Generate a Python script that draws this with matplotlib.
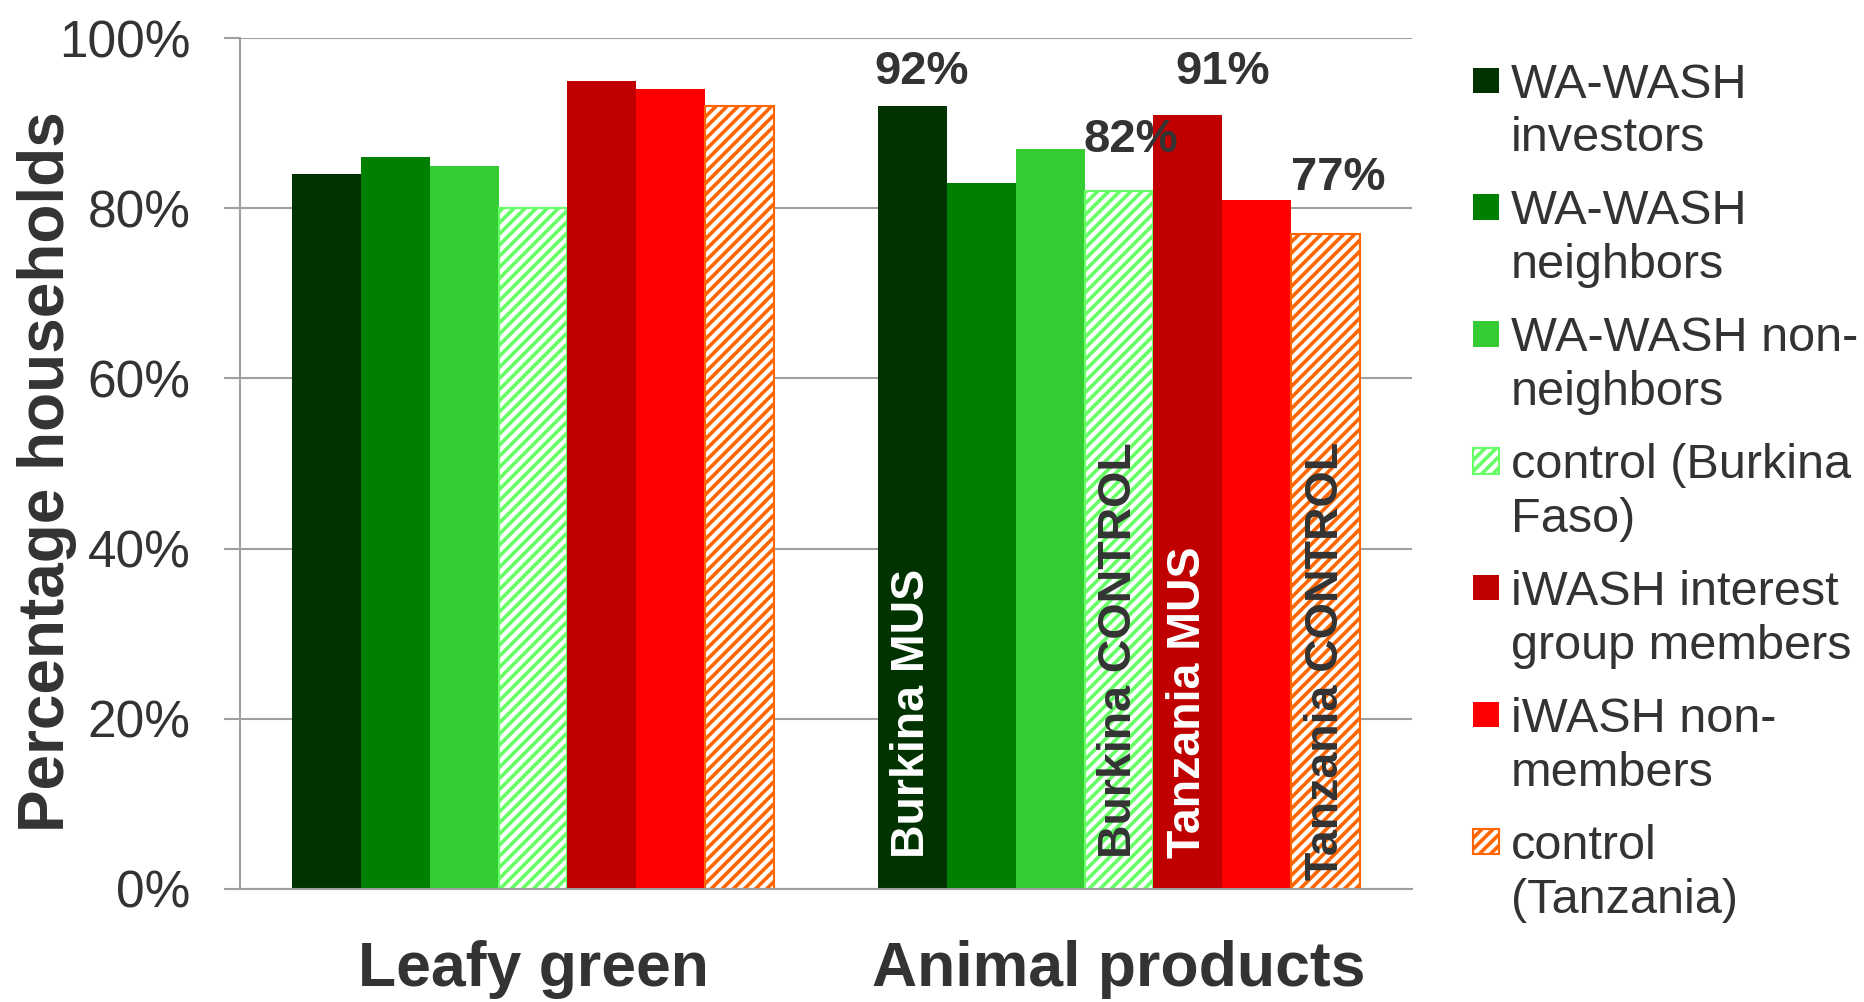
import matplotlib
matplotlib.use("Agg")
import matplotlib.pyplot as plt
from matplotlib.patches import Rectangle
from matplotlib.legend_handler import HandlerPatch
import numpy as np

plt.rcParams['font.family'] = ['Liberation Sans', 'DejaVu Sans']
plt.rcParams['hatch.linewidth'] = 2.6

categories = ["Leafy green", "Animal products"]
series = ["WA-WASH\ninvestors", "WA-WASH\nneighbors", "WA-WASH non-\nneighbors",
          "control (Burkina\nFaso)", "iWASH interest\ngroup members", "iWASH non-\nmembers",
          "control\n(Tanzania)"]
leafy_green = [84, 86, 85, 80, 95, 94, 92]
animal_products = [92, 83, 87, 82, 91, 81, 77]
colors = ["#003300", "#008000", "#33CC33", "#66FF66", "#C00000", "#FF0000", "#FF6600"]
hatched = [False, False, False, True, False, False, True]

# annotations on the "Animal products" group
pct_series = [0, 3, 4, 6]
pct_dx = [0.015, 0.02, 0.06, 0.022]
pct_dy = [4.0, 6.0, 5.0, 6.5]
inbar_series = [0, 3, 4, 6]
inbar_text = ["Burkina MUS", "Burkina CONTROL", "Tanzania MUS", "Tanzania CONTROL"]
inbar_color = ["white", "#333333", "white", "#333333"]
inbar_y = [3.6, 3.6, 3.6, 1.0]

TXT = "#333333"
GRID = "#A0A0A0"

fig = plt.figure(figsize=(18.64, 10.02), dpi=100)
ax = fig.add_axes([0.1288, 0.1128, 0.6287, 0.8492])

values = np.array([leafy_green, animal_products])  # shape (2, 7)
xc = np.arange(len(categories))
w = 0.1175
bars = []
for i, name in enumerate(series):
    xs = xc + (i - 3) * w
    if hatched[i]:
        b = ax.bar(xs, values[:, i], width=w, facecolor="white", edgecolor=colors[i],
                   hatch="///", linewidth=1.5, label=name, zorder=2)
    else:
        b = ax.bar(xs, values[:, i], width=w, color=colors[i], linewidth=0,
                   label=name, zorder=2)
    bars.append(b)

# percentage labels
for k, s in enumerate(pct_series):
    v = animal_products[s]
    x = 1 + (s - 3) * w + pct_dx[k]
    ax.text(x, v + pct_dy[k], f"{v}%", ha="center", va="center",
            fontsize=34, fontweight="bold", color=TXT, zorder=5)

# in-bar rotated labels
for k, s in enumerate(inbar_series):
    x = 1 + (s - 3) * w
    ax.text(x, inbar_y[k], inbar_text[k], rotation=90, ha="center", va="bottom",
            fontsize=33.5, fontweight="bold", color=inbar_color[k], zorder=5)

ax.set_xlim(-0.5, 1.5)
ax.set_ylim(0, 100)
ax.set_yticks(np.arange(0, 101, 20))
ax.set_yticklabels([f"{t}%" for t in range(0, 101, 20)])
ax.tick_params(axis="y", labelsize=37, labelcolor=TXT, length=11.5, width=1.5,
               color=GRID, pad=24)
ax.set_xticks(xc)
ax.set_xticklabels(categories, fontsize=45, fontweight="bold", color=TXT)
ax.tick_params(axis="x", length=0, pad=37)

ax.set_axisbelow(True)
ax.yaxis.grid(True, color=GRID, linewidth=1.5)
for sp in ["top", "right"]:
    ax.spines[sp].set_visible(False)
for sp in ["left", "bottom"]:
    ax.spines[sp].set_color(GRID)
    ax.spines[sp].set_linewidth(1.5)

ax.set_ylabel("Percentage households", fontsize=46, fontweight="bold", color=TXT)
ax.yaxis.set_label_coords(-0.139, 0.49)


class TopHandler(HandlerPatch):
    def __init__(self, shift, **kw):
        self.shift = shift
        super().__init__(**kw)

    def _create_patch(self, legend, orig_handle, xdescent, ydescent, width, height, fontsize):
        return Rectangle(xy=(-xdescent, -ydescent + self.shift), width=width, height=height)


handles = [b.patches[0] for b in bars]
hmap = {h: TopHandler(shift=23.0) for h in handles}
leg = fig.legend(handles, series, loc="upper left", bbox_to_anchor=(0.78, 0.957),
                 frameon=False, fontsize=35, handlelength=0.52, handleheight=0.42,
                 handletextpad=0.25, labelspacing=0.58, borderaxespad=0,
                 handler_map=hmap)
for t in leg.get_texts():
    t.set_color(TXT)
    t.set_linespacing(1.25)

fig.savefig("out.png", dpi=100)
